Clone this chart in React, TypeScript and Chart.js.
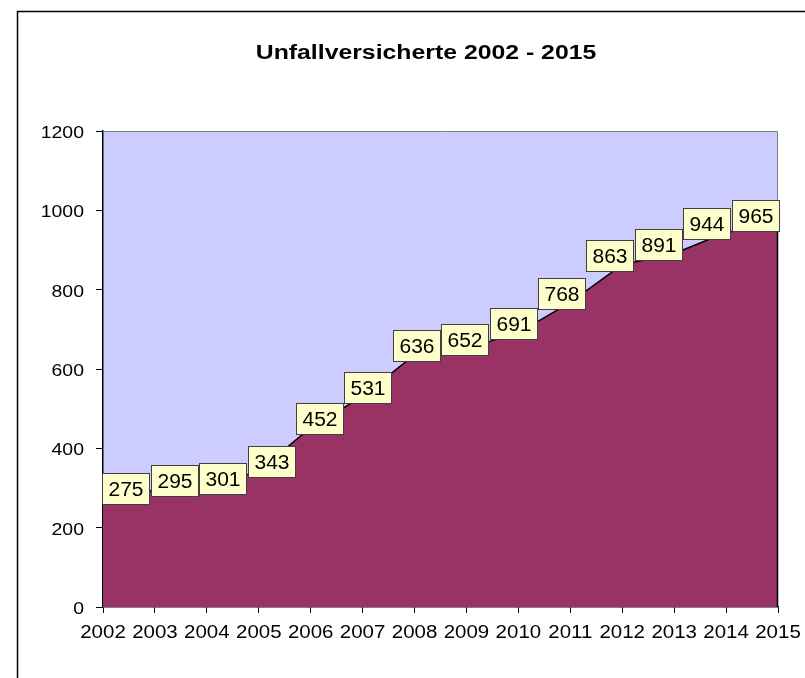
import React, { useEffect, useRef } from 'react';
import { Chart, registerables } from 'chart.js';

Chart.register(...registerables);

const TITLE = 'Unfallversicherte 2002 - 2015';
const years = ['2002', '2003', '2004', '2005', '2006', '2007', '2008', '2009', '2010', '2011', '2012', '2013', '2014', '2015'];
const insured = [275, 295, 301, 343, 452, 531, 636, 652, 691, 768, 863, 891, 944, 965];
const yTicks = [0, 200, 400, 600, 800, 1000, 1200];

const FONT = '"Liberation Sans", Arial, sans-serif';

function drawStretched(ctx: CanvasRenderingContext2D, text: string, x: number, y: number, sx: number, align: CanvasTextAlign) {
  ctx.save();
  ctx.translate(x, y);
  ctx.scale(sx, 1);
  ctx.textAlign = align;
  ctx.textBaseline = 'alphabetic';
  ctx.fillText(text, 0, 0);
  ctx.restore();
}

const excelPlugin = {
  id: 'excelLook',
  beforeDraw(chart: any) {
    const { ctx, chartArea: a } = chart;
    ctx.save();
    ctx.fillStyle = '#ffffff';
    ctx.fillRect(0, 0, chart.width, chart.height);
    // outer frame (cut off at right and bottom)
    ctx.strokeStyle = '#000000';
    ctx.lineWidth = 1.5;
    ctx.beginPath();
    ctx.moveTo(17.5, chart.height + 5);
    ctx.lineTo(17.5, 11.5);
    ctx.lineTo(chart.width + 5, 11.5);
    ctx.stroke();
    // plot area background
    ctx.fillStyle = '#CCCCFF';
    ctx.fillRect(a.left, a.top, a.right - a.left, a.bottom - a.top);
    ctx.restore();
  },
  afterDatasetsDraw(chart: any) {
    const { ctx, chartArea: a } = chart;
    const xs = chart.scales.x;
    const ys = chart.scales.y;
    const lastPx = xs.getPixelForValue(years.length - 1);
    const lastPy = ys.getPixelForValue(insured[insured.length - 1]);
    ctx.save();
    ctx.strokeStyle = '#808080';
    ctx.lineWidth = 1;
    ctx.beginPath();
    ctx.moveTo(a.left, a.top + 0.5);
    ctx.lineTo(a.right - 0.5, a.top + 0.5);
    ctx.lineTo(a.right - 0.5, lastPy);
    ctx.stroke();
    ctx.strokeStyle = '#000000';
    ctx.lineWidth = 1.5;
    ctx.beginPath();
    ctx.moveTo(lastPx - 0.5, lastPy);
    ctx.lineTo(lastPx - 0.5, a.bottom);
    ctx.stroke();
    ctx.restore();
  },
  afterDraw(chart: any) {
    const { ctx, chartArea: a } = chart;
    const xs = chart.scales.x;
    const ys = chart.scales.y;
    ctx.save();
    ctx.fillStyle = '#000000';

    // title
    ctx.font = `bold 20px ${FONT}`;
    drawStretched(ctx, TITLE, 426, 59, 1.24, 'center');

    // y tick labels
    ctx.font = `17px ${FONT}`;
    yTicks.forEach((v) => {
      drawStretched(ctx, String(v), a.left - 19, ys.getPixelForValue(v) + 7, 1.145, 'right');
    });

    // x tick labels
    ctx.font = `17.5px ${FONT}`;
    years.forEach((yr, i) => {
      drawStretched(ctx, yr, xs.getPixelForValue(i), a.bottom + 31, 1.17, 'center');
    });

    // data labels
    const mid = (a.left + a.right) / 2;
    const bw = 47;
    const bh = 31;
    ctx.font = `20px ${FONT}`;
    insured.forEach((v, i) => {
      const px = xs.getPixelForValue(i);
      const py = ys.getPixelForValue(v);
      const cx = mid + (px - mid) * 0.932;
      const cy = py - 9;
      const bx = Math.round(cx - bw / 2) + 0.5;
      const by = Math.round(cy - bh / 2) + 0.5;
      ctx.fillStyle = '#FFFFCC';
      ctx.fillRect(bx, by, bw, bh);
      ctx.strokeStyle = '#404040';
      ctx.lineWidth = 1;
      ctx.strokeRect(bx, by, bw, bh);
      ctx.fillStyle = '#000000';
      drawStretched(ctx, String(v), bx + bw / 2, by + bh / 2 + 7, 1.05, 'center');
    });
    ctx.restore();
  },
};

export default function App() {
  const canvasRef = useRef<HTMLCanvasElement | null>(null);

  useEffect(() => {
    if (!canvasRef.current) return;
    const chart = new Chart(canvasRef.current, {
      type: 'line',
      data: {
        labels: years,
        datasets: [
          {
            data: insured,
            fill: 'origin',
            backgroundColor: '#993366',
            borderColor: '#000000',
            borderWidth: 1.5,
            pointRadius: 0,
            pointHoverRadius: 0,
            tension: 0,
          },
        ],
      },
      options: {
        animation: false,
        responsive: true,
        maintainAspectRatio: false,
        layout: { padding: { left: 0, top: 131, right: 27, bottom: 0 } },
        plugins: {
          legend: { display: false },
          title: { display: false },
          tooltip: { enabled: false },
        },
        events: [],
        scales: {
          x: {
            type: 'category',
            offset: false,
            z: 1,
            grid: { drawOnChartArea: false, drawTicks: true, tickLength: 6, color: '#000000', offset: false },
            border: { color: '#000000', width: 1.5 },
            ticks: { display: false, autoSkip: false },
            afterFit: (s: any) => {
              s.height = 71;
            },
          },
          y: {
            min: 0,
            max: 1200,
            z: 1,
            ticks: { display: false, stepSize: 200 },
            grid: { drawOnChartArea: false, drawTicks: true, tickLength: 7, color: '#000000' },
            border: { color: '#000000', width: 1.5 },
            afterFit: (s: any) => {
              s.width = 103;
            },
          },
        },
      },
      plugins: [excelPlugin],
    });
    return () => chart.destroy();
  }, []);

  return (
    <div style={{ position: 'absolute', left: 0, top: 0, width: 805, height: 678, overflow: 'hidden', background: '#fff' }}>
      <canvas ref={canvasRef} />
    </div>
  );
}
